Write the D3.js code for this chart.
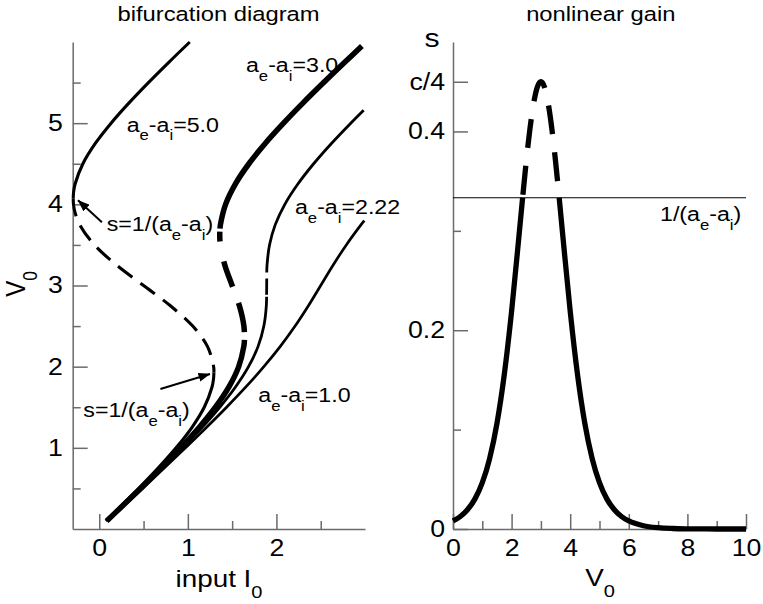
<!DOCTYPE html>
<html>
<head>
<meta charset="utf-8">
<script src="https://cdn.jsdelivr.net/npm/d3@7"></script>
<style>
  html, body { margin: 0; padding: 0; background: #fff; }
  svg { display: block; font-family: "Liberation Sans", Arial, Helvetica, sans-serif; }
</style>
</head>
<body>
<svg id="chart" width="763" height="604"></svg>
<script>
// ---- Steady-state branches V0(I0) for several values of a_e - a_i ----
// Each branch is listed as matching arrays of membrane value V0 and input I0.
const branch10V  = [0.1, 0.25, 0.5, 0.75, 1.0, 1.25, 1.5, 1.75, 2.0, 2.25, 2.5, 2.75, 3.0, 3.25, 3.5, 3.75, 3.8];
const branch10I  = [0.095, 0.243, 0.489, 0.733, 0.973, 1.209, 1.437, 1.655, 1.858, 2.044, 2.211, 2.361, 2.500, 2.639, 2.789, 2.956, 2.992];

const branch222V = [0.1, 0.25, 0.5, 0.75, 1.0, 1.25, 1.5, 1.75, 2.0, 2.25, 2.5, 2.75, 2.86, 3.0, 3.16, 3.25, 3.5, 3.75, 4.0, 4.25, 4.5, 4.75, 5.0, 5.16];
const branch222I = [0.088, 0.234, 0.476, 0.712, 0.941, 1.159, 1.360, 1.538, 1.685, 1.793, 1.858, 1.886, 1.889, 1.890, 1.891, 1.894, 1.922, 1.987, 2.095, 2.242, 2.420, 2.621, 2.839, 2.985];

const branch30V  = [0.1, 0.25, 0.5, 0.75, 1.0, 1.25, 1.5, 1.75, 2.0, 2.25, 2.33, 2.5, 2.75, 3.0, 3.25, 3.5, 3.624, 3.7, 3.75, 4.0, 4.25, 4.5, 4.75, 5.0, 5.25, 5.5, 5.75, 5.95];
const branch30I  = [0.084, 0.229, 0.467, 0.699, 0.920, 1.127, 1.311, 1.464, 1.574, 1.632, 1.639, 1.633, 1.582, 1.500, 1.418, 1.367, 1.360, 1.363, 1.368, 1.426, 1.536, 1.689, 1.873, 2.080, 2.301, 2.533, 2.771, 2.965];

const branch50V  = [0.1, 0.25, 0.5, 0.75, 1.0, 1.25, 1.5, 1.75, 1.85, 1.93, 2.0, 2.25, 2.5, 2.75, 3.0, 3.25, 3.5, 3.75, 3.9, 4.0, 4.07, 4.15, 4.25, 4.5, 4.75, 5.0, 5.25, 5.5, 5.75, 6.0];
const branch50I  = [0.073, 0.215, 0.445, 0.664, 0.867, 1.045, 1.185, 1.273, 1.290, 1.294, 1.291, 1.221, 1.055, 0.803, 0.500, 0.197, -0.055, -0.221, -0.274, -0.291, -0.294, -0.290, -0.273, -0.185, -0.045, 0.133, 0.336, 0.555, 0.785, 1.022];

// Unstable stretch of each branch, as a V0 interval (null = stable throughout)
const unstable10  = null;
const unstable222 = [2.86, 3.16];
const unstable30  = [2.33, 3.70];
const unstable50  = [1.93, 4.07];

// ---- Nonlinear gain s(V0) ----
const gainV = [0, 0.25, 0.5, 0.75, 1, 1.25, 1.5, 1.75, 2, 2.25, 2.376, 2.5, 2.625, 2.75, 2.875, 3, 3.125, 3.25, 3.375, 3.5, 3.624, 3.75, 4, 4.25, 4.5, 4.75, 5, 5.25, 5.5, 5.75, 6, 6.5, 7, 7.5, 8, 9, 10];
const gainS = [0.0081, 0.0126, 0.0196, 0.0303, 0.0466, 0.0709, 0.1062, 0.1553, 0.2191, 0.2943, 0.3333, 0.3699, 0.4024, 0.4280, 0.4444, 0.4500, 0.4444, 0.4280, 0.4024, 0.3699, 0.3333, 0.2943, 0.2191, 0.1553, 0.1062, 0.0709, 0.0466, 0.0303, 0.0196, 0.0126, 0.0081, 0.0033, 0.0013, 0.0005, 0.0002, 0.0000, 0.0000];
const gainThreshold = 0.3333;          // 1/(a_e - a_i) for a_e - a_i = 3
const gainUnstable  = [2.376, 3.624];  // where s exceeds the threshold

// ---- Tick values and labels ----
const bifXMajor = [0, 1, 2];
const bifXMinor = [0.5, 1.5, 2.5];
const bifYMajor = [1, 2, 3, 4, 5];
const bifYMinor = [0.5, 1.5, 2.5, 3.5, 4.5, 5.5];
const gainXMajor = [0, 2, 4, 6, 8, 10];
const gainXMinor = [1, 3, 5, 7, 9];
const gainYMajor = [0, 0.2, 0.4, 0.45];
const gainYLabels = ["0", "0.2", "0.4", "c/4"];
const gainYMinor = [0.1, 0.3];

// ---------------------------------------------------------------------
const STRETCH = 1.16;          // text is drawn slightly wide
const AXIS_GREY = "#6b6b6b";
const svg = d3.select("#chart");

const xL = d3.scaleLinear().domain([-0.3, 3.0]).range([72.7, 365]);
const yL = d3.scaleLinear().domain([0, 6]).range([529, 42]);
const xR = d3.scaleLinear().domain([0, 10]).range([453, 746]);
const yR = d3.scaleLinear().domain([0, 0.49]).range([529, 42]);

// text with optional subscripts: parts are strings, or [string] for a subscript
function richText(parent, x, y, parts, size, anchor, extra) {
  const t = parent.append("text")
    .attr("transform", `translate(${x},${y}) scale(${STRETCH},1)${extra || ""}`)
    .attr("font-size", size)
    .attr("text-anchor", anchor || "start")
    .attr("fill", "#000");
  let shift = 0;
  parts.forEach(p => {
    const sub = Array.isArray(p);
    const target = sub ? size * 0.44 : 0;
    t.append("tspan")
      .attr("dy", (target - shift).toFixed(2))
      .attr("font-size", sub ? size * 0.72 : size)
      .text(sub ? p[0] : p);
    shift = target;
  });
  return t;
}

function styleAxis(g, pad, vertical) {
  g.selectAll(".domain").attr("stroke", AXIS_GREY).attr("stroke-width", 1.5);
  g.selectAll(".tick line").attr("stroke", AXIS_GREY).attr("stroke-width", 1.5);
  g.selectAll(".tick text")
    .attr("font-size", 23)
    .attr("fill", "#000")
    .attr("font-family", '"Liberation Sans", Arial, Helvetica, sans-serif')
    .each(function () {
      const s = d3.select(this);
      if (vertical) s.attr("x", -pad / STRETCH);
      s.attr("transform", `scale(${STRETCH},1)`);
    });
}

function drawAxes(x, y, xMajor, xMinor, yMajor, yMinor, yFormat, padX, padY) {
  const y0 = y.range()[0], x0 = x.range()[0];
  const gx = svg.append("g").attr("transform", `translate(0,${y0})`)
    .call(d3.axisBottom(x).tickValues(xMajor).tickFormat(d3.format("d"))
      .tickSizeInner(-15).tickSizeOuter(0).tickPadding(padX));
  styleAxis(gx, padX, false);
  const gxm = svg.append("g").attr("transform", `translate(0,${y0})`)
    .call(d3.axisBottom(x).tickValues(xMinor).tickFormat("").tickSizeInner(-8).tickSizeOuter(0));
  styleAxis(gxm, 0, false);
  gxm.select(".domain").remove();

  const gy = svg.append("g").attr("transform", `translate(${x0},0)`)
    .call(d3.axisLeft(y).tickValues(yMajor).tickFormat(yFormat)
      .tickSizeInner(-15).tickSizeOuter(0).tickPadding(padY));
  styleAxis(gy, padY, true);
  const gym = svg.append("g").attr("transform", `translate(${x0},0)`)
    .call(d3.axisLeft(y).tickValues(yMinor).tickFormat("").tickSizeInner(-8).tickSizeOuter(0));
  styleAxis(gym, 0, true);
  gym.select(".domain").remove();
}

// ---------------- left panel: bifurcation diagram ----------------
drawAxes(xL, yL, bifXMajor, bifXMinor, bifYMajor, bifYMinor, d3.format("d"), 11, 10);

const lineL = d3.line()
  .x(d => xL(d[0])).y(d => yL(d[1]))
  .curve(d3.curveCatmullRom.alpha(0.5));

function drawBranch(Is, Vs, unstable, width, dash) {
  const pts = Is.map((v, i) => [v, Vs[i]]);
  const g = svg.append("g").attr("fill", "none").attr("stroke", "#000")
    .attr("stroke-width", width).attr("stroke-linecap", "butt");
  if (!unstable) {
    g.append("path").attr("d", lineL(pts));
    return;
  }
  const [lo, hi] = unstable;
  g.append("path").attr("d", lineL(pts.filter(p => p[1] <= lo)));
  g.append("path").attr("d", lineL(pts.filter(p => p[1] >= hi)));
  g.append("path").attr("d", lineL(pts.filter(p => p[1] >= lo && p[1] <= hi).reverse()))
    .attr("stroke-dasharray", dash);
}

drawBranch(branch10I, branch10V, unstable10, 2.7);
drawBranch(branch222I, branch222V, unstable222, 2.8, "0,6,16,30");
drawBranch(branch50I, branch50V, unstable50, 3.1, "18,10");
drawBranch(branch30I, branch30V, unstable30, 5.5, "0,3,10,20,27,17,30,12");

// arrows to the fold points of the a_e-a_i = 5 branch
const defs = svg.append("defs");
defs.append("marker").attr("id", "head")
  .attr("viewBox", "0 0 12 9").attr("refX", 11.5).attr("refY", 4.5)
  .attr("markerWidth", 12).attr("markerHeight", 9)
  .attr("markerUnits", "userSpaceOnUse").attr("orient", "auto")
  .append("path").attr("d", "M0,0L12,4.5L0,9Z").attr("fill", "#000");

[[[0.03, 3.78], [-0.24, 4.05]], [[0.69, 1.725], [1.25, 1.91]]].forEach(([from, to]) => {
  svg.append("line")
    .attr("x1", xL(from[0])).attr("y1", yL(from[1]))
    .attr("x2", xL(to[0])).attr("y2", yL(to[1]))
    .attr("stroke", "#000").attr("stroke-width", 2)
    .attr("marker-end", "url(#head)");
});

// branch labels
const ann = svg.append("g");
richText(ann, xL(0.309), yL(4.895), ["a", ["e"], "-a", ["i"], "=5.0"], 20);
richText(ann, xL(1.656), yL(5.634), ["a", ["e"], "-a", ["i"], "=3.0"], 20);
richText(ann, xL(2.209), yL(3.881), ["a", ["e"], "-a", ["i"], "=2.22"], 20);
richText(ann, xL(1.795), yL(1.568), ["a", ["e"], "-a", ["i"], "=1.0"], 20);
richText(ann, xL(0.084), yL(3.671), ["s=1/(a", ["e"], "-a", ["i"], ")"], 20);
richText(ann, xL(-0.180), yL(1.380), ["s=1/(a", ["e"], "-a", ["i"], ")"], 20);

// titles and axis names
richText(svg, 218.5, 21, ["bifurcation diagram"], 20.5, "middle");
richText(svg, 219, 587, ["input I", ["0"]], 24, "middle");
richText(svg, 25, 284, ["V", ["0"]], 24, "middle", " rotate(-90)");

// ---------------- right panel: nonlinear gain ----------------
drawAxes(xR, yR, gainXMajor, gainXMinor, gainYMajor, gainYMinor,
  d => gainYLabels[gainYMajor.indexOf(d)], 11, 8);

// threshold level 1/(a_e - a_i)
svg.append("line")
  .attr("x1", xR(0)).attr("x2", xR(10))
  .attr("y1", yR(gainThreshold)).attr("y2", yR(gainThreshold))
  .attr("stroke", "#000").attr("stroke-width", 1.2);

const lineR = d3.line().x(d => xR(d[0])).y(d => yR(d[1])).curve(d3.curveMonotoneX);
const gainPts = gainV.map((v, i) => [v, gainS[i]]);
const gg = svg.append("g").attr("fill", "none").attr("stroke", "#000")
  .attr("stroke-width", 5.3).attr("stroke-linecap", "butt");
gg.append("path").attr("d", lineR(gainPts.filter(p => p[0] <= gainUnstable[0])));
gg.append("path").attr("d", lineR(gainPts.filter(p => p[0] >= gainUnstable[1])));
gg.append("path").attr("d", lineR(gainPts.filter(p => p[0] >= gainUnstable[0] && p[0] <= gainUnstable[1])))
  .attr("stroke-dasharray", "29,18").attr("stroke-dashoffset", 44);

richText(svg, xR(7.065), yR(0.31), ["1/(a", ["e"], "-a", ["i"], ")"], 20);

richText(svg, 600.8, 21, ["nonlinear gain"], 20.5, "middle");
richText(svg, 600, 586, ["V", ["0"]], 24, "middle");
richText(svg, 432, 46.5, ["s"], 26, "middle");
</script>
</body>
</html>
